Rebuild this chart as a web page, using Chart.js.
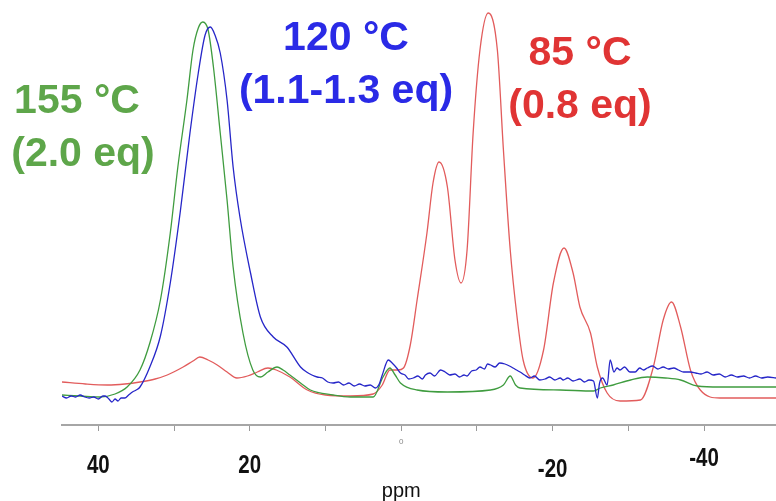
<!DOCTYPE html>
<html>
<head>
<meta charset="utf-8">
<script src="https://cdn.jsdelivr.net/npm/chart.js@4.4.1/dist/chart.umd.min.js"></script>
<style>
  html, body { margin: 0; padding: 0; background: #fff; }
  #wrap { width: 776px; height: 501px; position: relative; }
</style>
</head>
<body>
<div id="wrap"><canvas id="spectra"></canvas></div>
<script>
// 155 °C run (2.0 eq): chemical shift (ppm) and intensity
const shift155 = [44.8, 42.4, 39.8, 37.8, 36.2, 34.5, 33.2, 31.8, 30.5, 29.5, 28.3, 27.5, 26.8, 26.2, 25.5, 24.8, 23.9, 23.0, 22.2, 20.9, 19.6, 18.6, 17.6, 16.4, 15.6, 14.7, 13.3, 12.0, 9.0, 6.7, 3.7, 2.4, 1.5, 0.8, 0.1, -2.1, -6.1, -11.8, -13.5, -14.4, -15.1, -15.7, -21.0, -25.4, -26.3, -28.0, -30.3, -32.5, -34.9, -36.9, -39.1, -42.1, -45.4, -49.5];
const signal155 = [30, 29, 28, 31, 38, 55, 82, 125, 192, 258, 325, 375, 397, 403, 395, 358, 292, 225, 158, 92, 55, 48, 53, 58, 55, 50, 42, 35, 30, 28, 28, 48, 57, 50, 42, 35, 33, 35, 40, 49, 40, 37, 35, 34, 37, 40, 45, 48, 47, 45, 39, 38, 38, 38];

// 120 °C run (1.1-1.3 eq), noisier baseline
const shift120 = [44.8, 44.2, 43.6, 43.0, 42.4, 41.8, 41.2, 40.6, 40.0, 39.4, 39.1, 38.6, 38.2, 37.8, 37.4, 37.0, 36.5, 36.0, 35.5, 35.0, 34.5, 33.2, 31.8, 30.5, 29.2, 27.9, 26.8, 25.9, 25.2, 24.6, 23.9, 23.0, 22.2, 21.3, 19.9, 18.6, 16.9, 15.1, 13.3, 12.5, 11.8, 11.1, 10.4, 9.7, 9.0, 8.3, 7.6, 6.9, 6.2, 5.5, 4.8, 4.1, 3.4, 2.9, 2.5, 1.7, 1.2, 0.6, 0.1, -0.5, -1.0, -1.6, -2.2, -2.8, -3.2, -3.8, -4.4, -5.2, -5.8, -6.4, -7.1, -7.7, -8.3, -8.7, -9.3, -9.9, -10.4, -11.0, -11.4, -11.8, -12.4, -13.0, -13.7, -14.3, -15.0, -15.7, -16.3, -17.0, -17.6, -18.3, -19.0, -19.6, -20.3, -21.0, -21.4, -22.0, -22.7, -23.6, -24.2, -24.8, -25.4, -25.9, -26.2, -26.6, -27.2, -27.6, -28.1, -28.5, -28.9, -29.5, -30.2, -30.9, -31.5, -32.0, -32.5, -33.2, -33.9, -34.6, -35.3, -36.0, -36.6, -37.3, -38.2, -38.9, -39.6, -40.4, -41.2, -42.0, -42.8, -43.6, -44.4, -45.2, -46.0, -46.8, -47.6, -48.4, -49.5];
const signal120 = [29, 27, 29, 28, 30, 28, 27, 28, 26, 29, 29, 26, 23, 26, 24, 27, 27, 30, 33, 35, 38, 58, 89, 142, 212, 292, 352, 390, 398, 390, 372, 325, 258, 208, 152, 108, 88, 78, 58, 53, 50, 48, 47, 43, 42, 43, 40, 42, 39, 41, 39, 40, 37, 41, 50, 65, 62, 57, 52, 50, 46, 47, 49, 46, 50, 52, 49, 55, 53, 50, 51, 48, 50, 49, 54, 55, 58, 56, 61, 60, 58, 62, 61, 59, 56, 53, 50, 47, 49, 45, 46, 48, 45, 47, 45, 47, 44, 46, 43, 45, 44, 27, 42, 47, 40, 65, 53, 57, 55, 58, 53, 53, 57, 55, 57, 59, 56, 58, 56, 57, 55, 53, 53, 52, 51, 53, 50, 51, 48, 50, 48, 49, 47, 49, 47, 48, 47];

// 85 °C run (0.8 eq)
const shift85 = [44.8, 41.7, 38.8, 36.5, 34.5, 32.5, 30.9, 28.8, 27.5, 26.6, 25.5, 24.3, 23.0, 21.7, 20.3, 19.0, 17.6, 16.5, 14.7, 12.4, 10.0, 6.7, 3.7, 2.5, 1.5, 0.4, -0.3, -1.2, -2.1, -3.4, -4.2, -5.0, -6.1, -7.1, -7.9, -8.7, -9.5, -10.4, -11.5, -12.7, -13.5, -14.4, -15.3, -16.1, -17.4, -18.8, -20.1, -21.5, -22.7, -23.6, -25.0, -25.9, -27.2, -28.9, -31.6, -33.3, -34.6, -35.7, -36.9, -38.2, -39.5, -42.1, -49.5];
const signal85 = [43, 41, 40, 41, 43, 46, 50, 58, 64, 68, 65, 60, 53, 47, 49, 53, 57, 55, 48, 35, 30, 29, 31, 40, 55, 55, 57, 80, 125, 192, 242, 263, 238, 165, 142, 175, 292, 375, 412, 375, 275, 175, 108, 65, 47, 75, 142, 177, 152, 118, 92, 58, 32, 24, 25, 58, 105, 123, 98, 55, 35, 27, 27];

// labelled positions on the shift axis
const axisLabels = [40, 20, 0, -20, -40];

const pairs = (xs, ys) => xs.map((x, i) => ({ x: x, y: ys[i] }));

// run captions, drawn over the plot
const captions = [
  { lines: ['155 °C', '(2.0 eq)'], color: '#5ea64a', x: [77, 83], y: [113, 166] },
  { lines: ['120 °C', '(1.1-1.3 eq)'], color: '#2a2ae6', x: [346, 346], y: [50, 103] },
  { lines: ['85 °C', '(0.8 eq)'], color: '#e03434', x: [580, 580], y: [65, 118] }
];

const overlay = {
  id: 'overlay',
  afterDraw(chart) {
    const ctx = chart.ctx;
    const xs = chart.scales.x;
    ctx.save();
    ctx.textAlign = 'center';
    ctx.textBaseline = 'alphabetic';

    // shift labels under the axis, in a tall narrow bold face
    const nudge = { 40: 0, 20: 0, 0: 0, '-20': 4, '-40': -7 };
    axisLabels.forEach(v => {
      const px = xs.getPixelForValue(v);
      if (v === 0) {
        ctx.font = '8px Arial, "Liberation Sans", sans-serif';
        ctx.fillStyle = '#888';
        ctx.fillText('0', px, 444);
      } else {
        ctx.save();
        ctx.translate(px, 473 + nudge[v]);
        ctx.scale(0.82, 1);
        ctx.font = 'bold 25px Arial, "Liberation Sans", sans-serif';
        ctx.fillStyle = '#111';
        ctx.fillText(String(v), 0, 0);
        ctx.restore();
      }
    });
    ctx.font = '20px Arial, "Liberation Sans", sans-serif';
    ctx.fillStyle = '#111';
    ctx.fillText('ppm', xs.getPixelForValue(0), 497);

    ctx.font = 'bold 41px Arial, "Liberation Sans", sans-serif';
    captions.forEach(c => {
      ctx.fillStyle = c.color;
      c.lines.forEach((t, i) => ctx.fillText(t, c.x[i], c.y[i]));
    });
    ctx.restore();
  }
};

new Chart(document.getElementById('spectra'), {
  type: 'line',
  data: {
    datasets: [
      { label: '120 °C', data: pairs(shift120, signal120), borderColor: '#2626c8', borderWidth: 1.3 },
      { label: '155 °C', data: pairs(shift155, signal155), borderColor: '#3f9c3f', borderWidth: 1.3 },
      { label: '85 °C', data: pairs(shift85, signal85), borderColor: '#e25c5c', borderWidth: 1.3 }
    ]
  },
  options: {
    responsive: true,
    maintainAspectRatio: false,
    animation: false,
    layout: { padding: { left: 62, right: 0, top: 0, bottom: 70 } },
    elements: {
      point: { radius: 0 },
      line: { cubicInterpolationMode: 'monotone', fill: false }
    },
    plugins: { legend: { display: false }, tooltip: { enabled: false } },
    scales: {
      x: {
        type: 'linear',
        reverse: true,
        min: -49.5,
        max: 44.8,
        ticks: { display: false, stepSize: 10, includeBounds: false },
        grid: { drawOnChartArea: false, drawTicks: true, tickLength: 6, color: '#9a9a9a', lineWidth: 1 },
        border: { display: true, color: '#a6a6a6', width: 2 }
      },
      y: { display: false, min: 0, max: 425 }
    }
  },
  plugins: [overlay]
});
</script>
</body>
</html>
